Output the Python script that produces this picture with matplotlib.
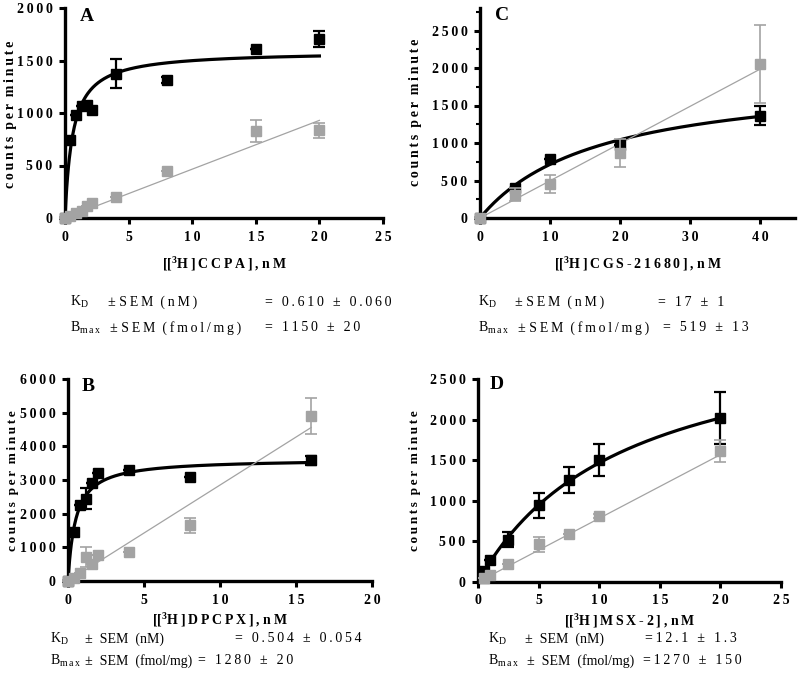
import numpy as np
import matplotlib
matplotlib.use('Agg')
import matplotlib.pyplot as plt

plt.rcParams['font.family'] = ['Liberation Serif', 'DejaVu Serif']
plt.rcParams['mathtext.fontset'] = 'custom'
plt.rcParams['mathtext.rm'] = 'Liberation Serif'
plt.rcParams['mathtext.bf'] = 'Liberation Serif:bold'

# Panel A: [3H]CCPA
a_x = [0, 0.4, 0.9, 1.3, 1.7, 2.1, 4, 8, 15, 20]
a_total = [0, 745, 978, 1070, 1075, 1032, 1375, 1317, 1610, 1705]
a_total_err = [0, 0, 0, 0, 0, 0, 135, 30, 0, 80]
a_nsb = [0, 20, 45, 70, 110, 140, 200, 450, 825, 835]
a_nsb_err = [0, 0, 0, 0, 0, 0, 0, 0, 105, 70]

# Panel B: [3H]DPCPX
b_x = [0, 0.4, 0.8, 1.2, 1.6, 2, 4, 8, 16]
b_total = [0, 1460, 2250, 2450, 2910, 3210, 3300, 3080, 3580]
b_total_err = [0, 0, 0, 300, 0, 0, 0, 0, 130]
b_nsb = [0, 100, 250, 720, 506, 774, 853, 1650, 4900]
b_nsb_err = [0, 0, 0, 300, 0, 0, 0, 220, 540]

# Panel C: [3H]CGS-21680
c_x = [0, 5, 10, 20, 40]
c_total = [0, 400, 786, 968, 1363]
c_total_err = [0, 0, 0, 0, 125]
c_nsb = [0, 311, 457, 866, 2052]
c_nsb_err = [0, 90, 120, 190, 520]

# Panel D: [3H]MSX-2
d_x = [0.5, 1, 2.5, 5, 7.5, 10, 20]
d_total = [140, 275, 521, 944, 1256, 1507, 2020]
d_total_err = [0, 0, 95, 150, 158, 197, 316]
d_nsb = [50, 82, 226, 464, 595, 817, 1609]
d_nsb_err = [0, 0, 0, 90, 0, 25, 135]

# fit parameters (one-site curve in cpm, linear nonspecific slope)
fits = {
    'A': dict(kd=0.61, bmax=1590, slope=46.5),
    'B': dict(kd=0.504, bmax=3630, slope=285),
    'C': dict(kd=17, bmax=1930, slope=49.6),
    'D': dict(kd=12.1, bmax=3242, slope=78.4),
}

GRAY = '#a3a3a3'
TS = '\u2009'


def sp(s):
    return TS.join(s)


def tick_txt(v):
    return TS.join(str(v))


fig = plt.figure(figsize=(7.98, 6.86), dpi=100)


def px_axes(l, t, r, b):
    return fig.add_axes([l / 798, 1 - b / 686, (r - l) / 798, (b - t) / 686])


def ftext(x, y, s, **kw):
    kw.setdefault('va', 'center')
    fig.text(x / 798, 1 - y / 686, s, **kw)


def panel(ax, x, tot, tot_err, nsb, nsb_err, fit, xlim, ylim, xticks, yticks, xlabel, xlpad):
    xs = np.linspace(min(x), max(x), 300)
    ax.plot(xs, fit['bmax'] * xs / (fit['kd'] + xs), color='black', lw=2.3, zorder=3)
    ax.plot([min(x), max(x)], [fit['slope'] * min(x), fit['slope'] * max(x)], color=GRAY, lw=0.9, zorder=3)
    ax.errorbar(x, tot, yerr=tot_err, fmt='s', color='black', ms=7, capsize=4, elinewidth=1.6,
                capthick=1.6, clip_on=False, zorder=4)
    ax.errorbar(x, nsb, yerr=nsb_err, fmt='s', color=GRAY, ms=7, capsize=4, elinewidth=1.2,
                capthick=1.2, clip_on=False, zorder=5)
    ax.set_xlim(*xlim)
    ax.set_ylim(*ylim)
    ax.set_xticks(xticks)
    ax.set_yticks(yticks)
    ax.set_xticklabels([tick_txt(t) for t in xticks], fontweight='bold', fontsize=10)
    ax.set_yticklabels([tick_txt(t) for t in yticks], fontweight='bold', fontsize=10)
    for s in ['top', 'right']:
        ax.spines[s].set_visible(False)
    for s in ['left', 'bottom']:
        ax.spines[s].set_linewidth(2.4)
    ax.tick_params(width=2.2, length=4, pad=5)
    ax.set_xlabel(xlabel, fontweight='bold', fontsize=10, labelpad=xlpad)


def xlab(name):
    return r'[[$^{\mathbf{3}}$' + sp('H]' + name + '],') + ' ' + sp('nM')


YLAB = sp('counts') + '  ' + sp('per') + '  ' + sp('minute')

axA = px_axes(65, 8, 383, 218)
panel(axA, a_x, a_total, a_total_err, a_nsb, a_nsb_err, fits['A'], (0, 25), (0, 2000),
      [0, 5, 10, 15, 20, 25], [0, 500, 1000, 1500, 2000], xlab('CCPA'), 8)
ftext(11, 114, YLAB, rotation=90, ha='center', fontweight='bold', fontsize=10)
ftext(80, 8, 'A', fontsize=14, fontweight='bold', va='top')

axC = px_axes(480, 8, 795, 218)
panel(axC, c_x, c_total, c_total_err, c_nsb, c_nsb_err, fits['C'], (0, 45), (0, 2800),
      [0, 10, 20, 30, 40], [0, 500, 1000, 1500, 2000, 2500], xlab('CGS-21680'), 8)
axC.set_yticks(np.arange(250, 2800, 500), minor=True)
axC.tick_params(which='minor', width=1.5, length=3)
ftext(415, 112, YLAB, rotation=90, ha='center', fontweight='bold', fontsize=10)
ftext(495, 7, 'C', fontsize=14, fontweight='bold', va='top')

axB = px_axes(68, 379, 372, 581)
panel(axB, b_x, b_total, b_total_err, b_nsb, b_nsb_err, fits['B'], (0, 20), (0, 6000),
      [0, 5, 10, 15, 20], [0, 1000, 2000, 3000, 4000, 5000, 6000], xlab('DPCPX'), 3)
ftext(13, 481, YLAB, rotation=90, ha='center', fontweight='bold', fontsize=9.5)
ftext(82, 378, 'B', fontsize=14, fontweight='bold', va='top')

axD = px_axes(478, 379, 781, 582)
panel(axD, d_x, d_total, d_total_err, d_nsb, d_nsb_err, fits['D'], (0, 25), (0, 2500),
      [0, 5, 10, 15, 20, 25], [0, 500, 1000, 1500, 2000, 2500], xlab('MSX-2'), 3)
ftext(415, 481, YLAB, rotation=90, ha='center', fontweight='bold', fontsize=9.5)
ftext(490, 376, 'D', fontsize=14, fontweight='bold', va='top')

# parameter text under each panel
fs = 10
KD = r'K$_{\rm D}$'
BM = r'B$_{\rm m\,a\,x}$'
SEM_NM_SP = '± ' + sp('SEM') + '  ' + sp('(nM)')
SEM_FM_SP = '± ' + sp('SEM') + '  ' + sp('(fmol/mg)')
SEM_NM = '±  SEM  (nM)'
SEM_FM = '±  SEM  (fmol/mg)'
rows = [
    (70, 108, 265, 302, 110, 265, 328, SEM_NM_SP, SEM_FM_SP, '= 0.610 ± 0.060', '= 1150 ± 20'),
    (478, 515, 658, 302, 518, 663, 328, SEM_NM_SP, SEM_FM_SP, '= 17 ± 1', '= 519 ± 13'),
    (50, 85, 235, 639, 85, 198, 661, SEM_NM, SEM_FM, '= 0.504 ± 0.054', '= 1280 ± 20'),
    (488, 525, 645, 639, 527, 643, 661, SEM_NM, SEM_FM, '=12.1 ± 1.3', '=1270 ± 150'),
]
for (x0, x1, x2, y0, x1b, x2b, y1, sem_nm, sem_fm, kd_txt, bm_txt) in rows:
    ftext(x0, y0, KD, fontsize=fs)
    ftext(x1, y0, sem_nm, fontsize=fs)
    ftext(x2, y0, sp(kd_txt), fontsize=fs)
    ftext(x0, y1, BM, fontsize=fs)
    ftext(x1b, y1, sem_fm, fontsize=fs)
    ftext(x2b, y1, sp(bm_txt), fontsize=fs)

fig.savefig('out.png', dpi=100)
